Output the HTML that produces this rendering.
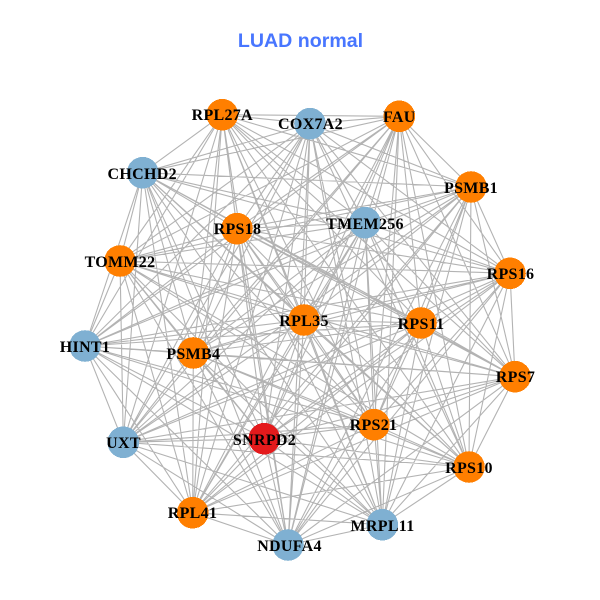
<!DOCTYPE html>
<html><head><meta charset="utf-8"><style>
html,body{margin:0;padding:0;background:#fff}
svg{display:block}
.l text{font:bold 16px "Liberation Serif",serif;letter-spacing:.3px;text-anchor:middle;fill:#000}
</style></head><body>
<svg id="s" width="600" height="600" viewBox="0 0 600 600" xmlns="http://www.w3.org/2000/svg">
<rect width="600" height="600" fill="#fff"/>
<path id="e" fill="none" stroke="#b3b3b3" stroke-width="1.1"/>
<g shape-rendering="crispEdges">
<circle cx="222.3" cy="114.7" r="15.8" fill="#FF7F00"/>
<circle cx="310" cy="123.7" r="15.8" fill="#7FB0D2"/>
<circle cx="399.3" cy="116.3" r="15.8" fill="#FF7F00"/>
<circle cx="142.7" cy="172.7" r="15.8" fill="#7FB0D2"/>
<circle cx="471" cy="187" r="15.8" fill="#FF7F00"/>
<circle cx="365" cy="222.7" r="15.8" fill="#7FB0D2"/>
<circle cx="237" cy="228.7" r="15.8" fill="#FF7F00"/>
<circle cx="120" cy="261" r="15.8" fill="#FF7F00"/>
<circle cx="510" cy="273.3" r="15.8" fill="#FF7F00"/>
<circle cx="304" cy="320" r="15.8" fill="#FF7F00"/>
<circle cx="421" cy="323" r="15.8" fill="#FF7F00"/>
<circle cx="85" cy="346" r="15.8" fill="#7FB0D2"/>
<circle cx="193.3" cy="353" r="15.8" fill="#FF7F00"/>
<circle cx="515" cy="376.7" r="15.8" fill="#FF7F00"/>
<circle cx="374" cy="424.7" r="15.8" fill="#FF7F00"/>
<circle cx="123.3" cy="442.3" r="15.8" fill="#7FB0D2"/>
<circle cx="264.3" cy="438.7" r="15.8" fill="#E41A1C"/>
<circle cx="469" cy="467" r="15.8" fill="#FF7F00"/>
<circle cx="192.7" cy="512.7" r="15.8" fill="#FF7F00"/>
<circle cx="382.3" cy="524.7" r="15.8" fill="#7FB0D2"/>
<circle cx="288" cy="545" r="15.8" fill="#7FB0D2"/>
</g>
<g class="l">
<text x="222.3" y="120">RPL27A</text>
<text x="310.5" y="129">COX7A2</text>
<text x="399.3" y="122">FAU</text>
<text x="142.2" y="179">CHCHD2</text>
<text x="471" y="193">PSMB1</text>
<text x="365" y="229">TMEM256</text>
<text x="237.5" y="234">RPS18</text>
<text x="120" y="267">TOMM22</text>
<text x="510.5" y="279">RPS16</text>
<text x="304" y="326">RPL35</text>
<text x="421" y="329">RPS11</text>
<text x="85" y="352">HINT1</text>
<text x="193.3" y="359">PSMB4</text>
<text x="515.5" y="382">RPS7</text>
<text x="373.5" y="430">RPS21</text>
<text x="123.5" y="448">UXT</text>
<text x="264.5" y="445">SNRPD2</text>
<text x="469" y="473">RPS10</text>
<text x="192.5" y="518">RPL41</text>
<text x="382.5" y="531">MRPL11</text>
<text x="289.5" y="551">NDUFA4</text>
</g>
<text x="300.5" y="47" text-anchor="middle" style="font:bold 19.6px 'Liberation Sans',sans-serif" fill="#4876FF">LUAD normal</text>
</svg>
<script>
var c=document.querySelectorAll('circle'),p=[],d='';
c.forEach(function(n){p.push([n.getAttribute('cx'),n.getAttribute('cy')])});
for(var i=0;i<p.length;i++)for(var j=i+1;j<p.length;j++)d+='M'+p[i][0]+' '+p[i][1]+'L'+p[j][0]+' '+p[j][1];
document.getElementById('e').setAttribute('d',d);
</script>
</body></html>
